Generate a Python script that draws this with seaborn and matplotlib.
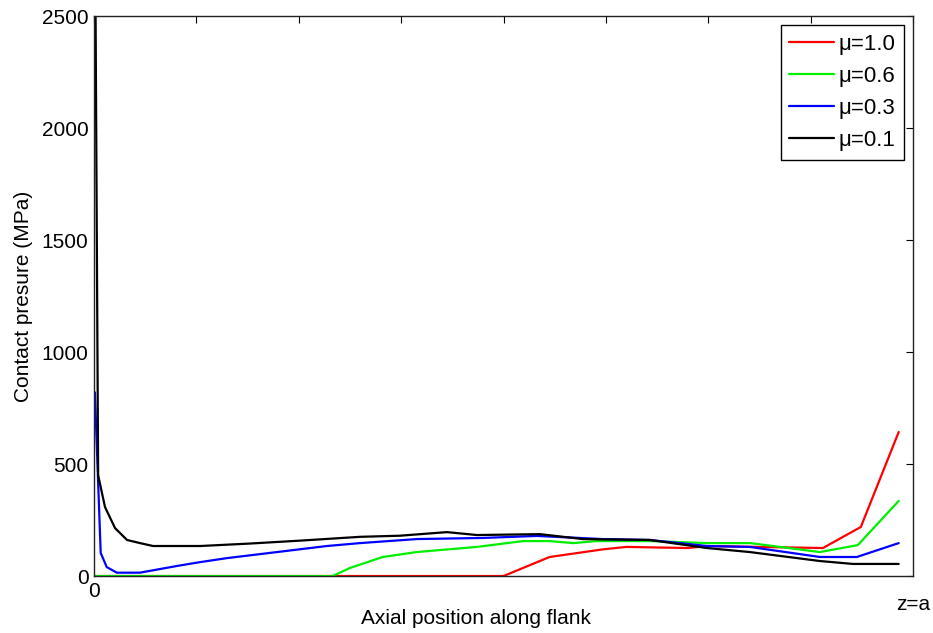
import pandas as pd
import seaborn as sns
import matplotlib.pyplot as plt

# axial position (0 .. z=a mapped to 0 .. 8) and contact pressure (MPa)
x_mu10 = [0, 4.00, 4.45, 4.97, 5.20, 5.80, 5.99, 7.12, 7.49, 7.86]
p_mu10 = [0, 0, 85, 119, 130, 125, 134, 125, 219, 643]

x_mu06 = [0, 2.33, 2.50, 2.82, 3.15, 3.74, 4.19, 4.45, 4.68, 4.91, 5.43, 5.99, 6.41, 7.09, 7.46, 7.86]
p_mu06 = [0, 0, 36, 85, 107, 130, 156, 156, 147, 156, 156, 147, 147, 107, 138, 335]

x_mu03 = [0.008, 0.065, 0.124, 0.222, 0.449, 0.811, 1.035, 1.299, 1.787, 2.275, 2.598, 3.154,
          3.799, 4.326, 4.971, 5.430, 5.986, 6.406, 7.090, 7.451, 7.86]
p_mu03 = [820, 103, 40, 15, 15, 45, 62, 80, 107, 134, 147, 165,
          170, 179, 165, 161, 134, 130, 85, 85, 147]

x_mu01 = [0.015, 0.04, 0.107, 0.205, 0.322, 0.449, 0.576, 1.035, 1.523, 2.012, 2.598, 2.988,
          3.447, 3.740, 4.355, 4.775, 5.430, 5.986, 6.406, 7.090, 7.412, 7.86]
p_mu01 = [2500, 450, 308, 214, 161, 147, 134, 134, 145, 158, 175, 180,
          196, 183, 187, 165, 161, 125, 107, 67, 54, 54]

labels = ["\u03bc=1.0", "\u03bc=0.6", "\u03bc=0.3", "\u03bc=0.1"]
colors = ["#ff0000", "#00ee00", "#0000ff", "#000000"]

frames = []
for lab, xs, ps in zip(labels, [x_mu10, x_mu06, x_mu03, x_mu01], [p_mu10, p_mu06, p_mu03, p_mu01]):
    frames.append(pd.DataFrame({"z": xs, "p": ps, "mu": lab}))
df = pd.concat(frames, ignore_index=True)

sns.set_style("white")
plt.rcParams["font.family"] = ["Liberation Sans", "DejaVu Sans"]
plt.rcParams["text.color"] = "black"
plt.rcParams["axes.labelcolor"] = "black"
plt.rcParams["xtick.direction"] = "in"
plt.rcParams["ytick.direction"] = "in"

fig = plt.figure(figsize=(9.33, 6.33), dpi=100)
ax = fig.add_axes([0.1008, 0.09, 0.8778, 0.8847])

sns.lineplot(data=df, x="z", y="p", hue="mu", palette=dict(zip(labels, colors)),
             estimator=None, sort=False, linewidth=1.6, ax=ax)

ax.set_xlim(0, 8)
ax.set_ylim(0, 2500)
ax.set_xticks(range(0, 9))
ax.set_xticklabels(["0"] + [""] * 8)
ax.set_yticks(range(0, 2501, 500))
ax.tick_params(axis="both", which="both", top=True, right=True, length=5, width=0.8,
               labelsize=15, pad=4, colors="black")
for s in ax.spines.values():
    s.set_color("#222222")
    s.set_linewidth(1.0)

ax.set_xlabel("")
ax.set_ylabel("Contact presure (MPa)", fontsize=15, labelpad=6)
ax.text(3.73, -0.075, "Axial position along flank", transform=ax.get_xaxis_transform(),
        ha="center", va="center", fontsize=15)
ax.text(8.0, -0.05, "z=a", transform=ax.get_xaxis_transform(),
        ha="center", va="center", fontsize=15)

leg = ax.legend(loc="upper right", fontsize=16, frameon=True, fancybox=False,
                edgecolor="black", framealpha=1, borderaxespad=0.4,
                handlelength=2.0, labelspacing=0.5, handletextpad=0.2, borderpad=0.4)
leg.get_frame().set_linewidth(1.0)

plt.savefig("out.png", dpi=100)
